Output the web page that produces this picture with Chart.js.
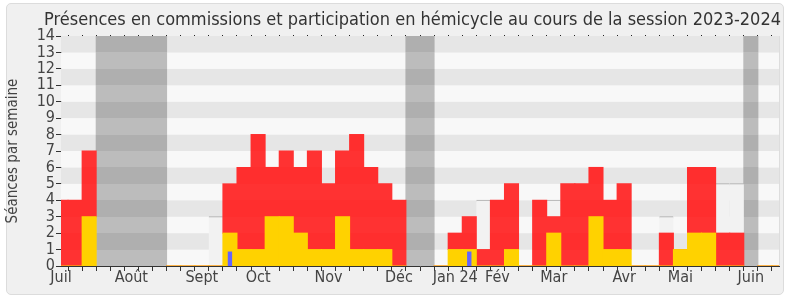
<!DOCTYPE html>
<html>
<head>
<meta charset="utf-8">
<script src="https://cdn.jsdelivr.net/npm/chart.js@4.4.0/dist/chart.umd.min.js"></script>
<style>
  body { margin: 0; background: #fff; }
  #wrap { position: relative; width: 790px; height: 300px; }
  #panel { position: absolute; left: 6px; top: 3px; width: 776px; height: 290px; background: #f0f0f0; border: 1px solid #dcdcdc; border-radius: 5px; }
  canvas { position: absolute; left: 0; top: 0; }
</style>
</head>
<body>
<div id="wrap">
  <div id="panel"></div>
  <canvas id="chart" width="790" height="300"></canvas>
</div>
<script>
// semaines (ISO) de juillet 2023 à juin 2024
const weeks = ["S27","S28","S29","S30","S31","S32","S33","S34","S35","S36","S37","S38","S39",
  "S40","S41","S42","S43","S44","S45","S46","S47","S48","S49","S50","S51","S52",
  "S01","S02","S03","S04","S05","S06","S07","S08","S09","S10","S11","S12","S13",
  "S14","S15","S16","S17","S18","S19","S20","S21","S22","S23","S24","S25","S26"];
const monthNames = ["Juil", "Août", "Sept", "Oct", "Nov", "Déc", "Jan 24", "Fév", "Mar", "Avr", "Mai", "Juin"];
const monthWeek = [0, 5, 10, 14, 19, 24, 28, 31, 35, 40, 44, 49];

const commissions = [0,0,3,null,null,null,null,null,0,0,0,0,2,
  1,1,3,3,2,1,1,3,1,1,1,0,null,
  null,0,1,1,0,0,1,0,0,2,0,0,3,
  1,1,0,0,0,1,2,2,0,0,null,0,0];
const hemicycle = [4,4,4,null,null,null,null,null,0,0,0,0,3,
  5,7,3,4,4,6,4,4,7,5,4,4,null,
  null,0,1,2,1,4,4,0,4,1,5,5,3,
  3,4,0,0,2,0,4,4,2,2,null,0,0];
const questions = [null,null,null,null,null,null,null,null,null,null,null,null,0.85,
  null,null,null,null,null,null,null,null,null,null,null,null,null,
  null,null,null,0.85,null,null,null,null,null,null,null,null,null,
  null,null,null,null,null,null,null,null,null,null,null,null,null];
const mediane = [null,null,null,null,null,null,null,null,null,null,null,3,null,
  null,null,null,null,null,null,null,null,null,null,null,null,null,
  null,null,null,null,4,null,null,null,null,4,null,null,null,
  null,null,null,null,3,null,null,null,5,5,null,null,null];
const vacances = [null,null,null,14,14,14,14,14,null,null,null,null,null,
  null,null,null,null,null,null,null,null,null,null,null,null,14,
  14,null,null,null,null,null,null,null,null,null,null,null,null,
  null,null,null,null,null,null,null,null,null,null,14,null,null];

const stripes = {
  id: "stripes",
  beforeDatasetsDraw(chart) {
    const { ctx, chartArea: a, scales: { y } } = chart;
    ctx.save();
    for (let i = 0; i < 14; i++) {
      const top = y.getPixelForValue(i + 1), bot = y.getPixelForValue(i);
      ctx.fillStyle = i % 2 ? "#e6e6e6" : "#f8f8f8";
      ctx.fillRect(a.left, top, a.right - a.left, bot - top);
    }
    ctx.strokeStyle = "#dddddd";
    ctx.beginPath();
    ctx.moveTo(a.right + 0.5, a.top);
    ctx.lineTo(a.right + 0.5, a.bottom);
    ctx.stroke();
    ctx.restore();
  }
};

// fond opaque qui suit les bandes horizontales (évite les joints entre barres)
function banded(chart, even, odd) {
  const y = chart.scales.y;
  if (!y || !chart.chartArea) return even;
  const g = chart.ctx.createLinearGradient(0, y.getPixelForValue(0), 0, y.getPixelForValue(14));
  for (let i = 0; i < 14; i++) {
    const c = i % 2 ? odd : even;
    g.addColorStop(i / 14, c);
    g.addColorStop((i + 1) / 14, c);
  }
  return g;
}

const family = "'DejaVu Sans Condensed', 'DejaVu Sans', sans-serif";
const font = { family: family, size: 16 };

new Chart(document.getElementById("chart"), {
  type: "bar",
  data: {
    labels: weeks,
    datasets: [
      { label: "Questions", data: questions, backgroundColor: "#6464ff", stack: "q", order: 0, barPercentage: 0.24 },
      { label: "Commissions", data: commissions, backgroundColor: "#ffd200", stack: "p", order: 1 },
      { label: "Hémicycle", data: hemicycle, backgroundColor: c => banded(c.chart, "#ff3232", "#ff2e2e"), stack: "p", order: 2 },
      { label: "Médiane", data: mediane, backgroundColor: "#f2f2f2", borderColor: "#aaaaaa",
        borderWidth: { top: 1, left: 0, right: 0, bottom: 0 }, borderSkipped: "bottom", stack: "m", order: 3 },
      { label: "Vacances", data: vacances, backgroundColor: c => banded(c.chart, "#bcbcbc", "#afafaf"), stack: "v", order: 4 }
    ]
  },
  options: {
    responsive: false,
    animation: false,
    layout: { padding: { left: 0, right: 9, top: 0, bottom: 0 } },
    datasets: { bar: { grouped: false, barPercentage: 1, categoryPercentage: 1, clip: 0, borderWidth: 0, inflateAmount: 0.5 } },
    plugins: {
      legend: { display: false },
      tooltip: { enabled: false },
      title: {
        display: true,
        align: "end",
        text: "Présences en commissions et participation en hémicycle au cours de la session 2023-2024",
        color: "#333",
        font: { family: family, size: 18, weight: "normal", lineHeight: 1.2 },
        padding: { top: 10, bottom: 3.4 }
      }
    },
    scales: {
      x: {
        type: "category",
        offset: false,
        stacked: true,
        grid: { drawOnChartArea: false, drawTicks: true, tickLength: 5, color: "#333" },
        border: { display: true, color: "#333" },
        ticks: {
          autoSkip: false, maxRotation: 0, color: "#444", font: font, padding: -3,
          callback: (v, i) => { const m = monthWeek.indexOf(i); return m >= 0 ? monthNames[m] : ""; }
        },
        afterFit: s => { s.height = 34; }
      },
      x2: {
        type: "category",
        position: "top",
        offset: false,
        grid: { drawOnChartArea: false, drawTicks: true, tickLength: 1, color: "#222" },
        border: { display: false },
        ticks: { display: false },
        afterFit: s => { s.height = 1; }
      },
      y: {
        min: 0, max: 14,
        stacked: true,
        grid: { drawOnChartArea: false, drawTicks: true, tickLength: 5, color: "#333" },
        border: { display: true, color: "#333" },
        ticks: { stepSize: 1, autoSkip: false, color: "#444", font: font, padding: 1 },
        title: { display: true, text: "Séances par semaine", color: "#444", font: { family: family, size: 15 }, padding: { top: 4, bottom: 0 } },
        afterFit: s => { s.width = 61; }
      },
      yRight: {
        position: "right",
        min: 0, max: 14,
        grid: { display: false },
        border: { display: false },
        ticks: { display: false },
        afterFit: s => { s.width = 2; }
      }
    }
  },
  plugins: [stripes]
});
</script>
</body>
</html>
